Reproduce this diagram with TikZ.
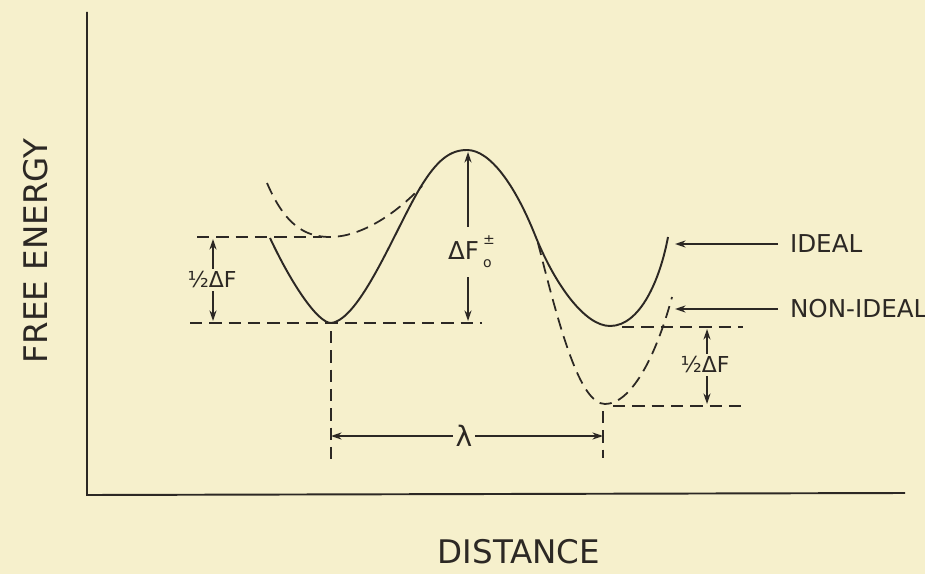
\documentclass[tikz,border=0pt]{standalone}
\usepackage{fontspec}
\setmainfont{DejaVu Sans}
\usetikzlibrary{arrows.meta}
\definecolor{paper}{RGB}{246,240,204}
\definecolor{ink}{RGB}{44,40,36}

\tikzset{
  curve/.style={ink, line width=1.1pt},
  guide/.style={ink, line width=1pt, dash pattern=on 7pt off 4pt},
  pointer/.style={ink, line width=0.9pt, -{Stealth[length=6pt,width=4pt]}},
  lbl/.style={text=ink, font=\fontsize{12.5}{14}\selectfont, inner sep=1.5pt},
  tag/.style={text=ink, font=\fontsize{14}{16}\selectfont, anchor=west, inner sep=1.5pt},
  caption/.style={text=ink, font=\fontsize{18.5}{20}\selectfont},
}

\begin{document}
\begin{tikzpicture}[x=0.2mm, y=-0.2mm]
% Page in pixel units of the reference (y runs downward), cream paper
\fill[paper] (0,0) rectangle (925,574);
\useasboundingbox (0,0) rectangle (925,574);
% Axes and their captions
\draw[curve] (87,12) -- (87,495) -- (905,493);
\node[caption, rotate=90] (yname) at (36,251) {FREE ENERGY};
\node[caption] (xname) at (519,552) {DISTANCE};
% Ideal curve: two wells with the barrier between them
\draw[curve] (270,238) .. controls (292,285) and (318,323) .. (331,323)
  .. controls (360,320) and (395,230) .. (420,188)
  .. controls (437,160) and (450,150) .. (467,150)
  .. controls (490,150) and (515,185) .. (535,235)
  .. controls (555,285) and (585,326) .. (610,326)
  .. controls (640,326) and (660,280) .. (668,237);
% Non-ideal curve: left well raised, right well lowered
\draw[guide] (267,183) .. controls (285,225) and (305,237) .. (330,237)
  .. controls (360,237) and (395,215) .. (422,186);
\draw[guide] (538,243) .. controls (560,330) and (580,404) .. (605,404)
  .. controls (630,404) and (655,360) .. (672,297);
% Level lines and drop lines
\draw[guide] (197,237) -- (322,237);
\draw[guide] (190,323) -- (482,323);
\draw[guide] (622,327) -- (743,327);
\draw[guide] (613,406) -- (743,406);
\draw[guide] (331,331) -- (331,462);
\draw[guide] (603,411) -- (603,458);
% Arrow ends
\coordinate (idealend) at (675,244);
\coordinate (nonidealend) at (675,309);
\coordinate (lefttop) at (213,239);
\coordinate (leftbot) at (213,321);
\coordinate (peaktop) at (468,152);
\coordinate (peakbot) at (468,321);
\coordinate (righttop) at (707,329);
\coordinate (rightbot) at (707,404);
\coordinate (lamleft) at (331,436);
\coordinate (lamright) at (603,436);
% Labels
\node[tag] (ideal) at (787,244) {IDEAL};
\node[tag] (nonideal) at (787,309) {NON-IDEAL};
\node[lbl] (halfleft) at (212,280) {½ΔF};
\node[lbl, font=\fontsize{14}{16}\selectfont, inner ysep=5pt] (barrier) at (470,252)
  {ΔF\,\makebox[0pt][l]{\raisebox{1.1ex}{\footnotesize ±}}\raisebox{-0.6ex}{\footnotesize o}};
\node[lbl] (halfright) at (705,365) {½ΔF};
\node[lbl, font=\fontsize{16}{18}\selectfont] (lam) at (464,436) {λ};
% Pointers and dimension arrows
\draw[pointer, shorten <=1.8mm] (ideal.west) -- (idealend);
\draw[pointer, shorten <=1.8mm] (nonideal.west) -- (nonidealend);
\draw[pointer] (halfleft.north -| lefttop) -- (lefttop);
\draw[pointer] (halfleft.south -| leftbot) -- (leftbot);
\draw[pointer] (barrier.north -| peaktop) -- (peaktop);
\draw[pointer] (barrier.south -| peakbot) -- (peakbot);
\draw[pointer] (halfright.north -| righttop) -- (righttop);
\draw[pointer] (halfright.south -| rightbot) -- (rightbot);
\draw[pointer] (lam.west) -- (lamleft);
\draw[pointer] (lam.east) -- (lamright);
\end{tikzpicture}
\end{document}
